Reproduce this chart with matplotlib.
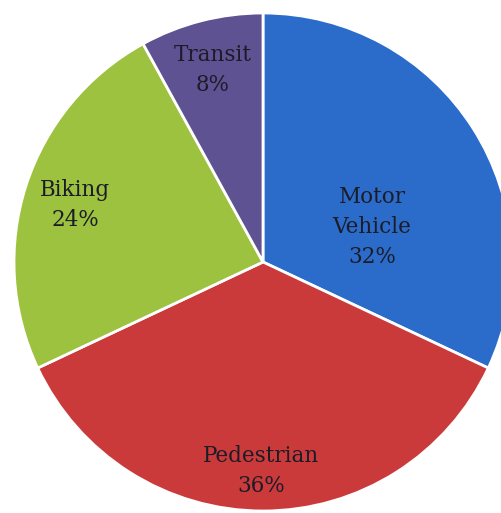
import matplotlib
matplotlib.use("Agg")
import matplotlib.pyplot as plt

# Share of trips by travel mode
modes = ["Motor\nVehicle", "Pedestrian", "Biking", "Transit"]
shares = [32, 36, 24, 8]
colors = ["#2b6cca", "#cb3a3a", "#9dc23f", "#5e5292"]

# label anchor points (figure pixels, origin top-left)
label_xy = [(372, 227), (261, 471), (75, 205), (213, 70)]

W, H = 502, 513
fig = plt.figure(figsize=(W / 100, H / 100), dpi=100)
ax = fig.add_axes([0, 0, 1, 1])

cx, cy, r = 263, H - 262, 249
ax.pie(shares, colors=colors, startangle=90, counterclock=False,
       center=(cx, cy), radius=r, frame=True,
       wedgeprops=dict(edgecolor="white", linewidth=2))
ax.set_xlim(0, W)
ax.set_ylim(0, H)
ax.set_aspect("equal")
ax.axis("off")

for name, val, (x, y) in zip(modes, shares, label_xy):
    ax.text(x, H - y, f"{name}\n{val}%", ha="center", va="center",
            fontsize=15.5, family="DejaVu Serif", color="#1c1c28",
            linespacing=1.45)

fig.savefig("out.png", dpi=100)
